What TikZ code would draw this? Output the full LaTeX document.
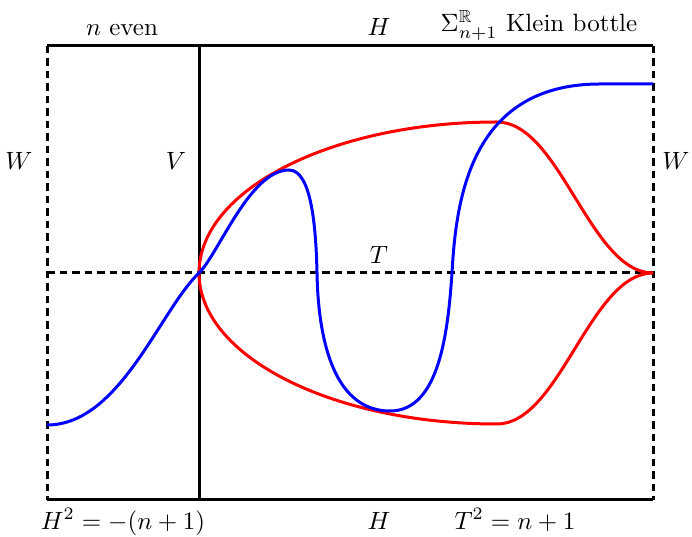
\documentclass[tikz,border=0pt]{standalone}
\usepackage{amsmath,amssymb}
\usepackage{tikz}
\usetikzlibrary{positioning, calc}

\begin{document}
\begin{tikzpicture}[
  x=0.4pt, y=-0.4pt,
  solidline/.style={line width=1.2pt},
  dashline/.style={line width=1.2pt, dash pattern=on 3pt off 2pt},
  redcurve/.style={red, line width=1.2pt},
  bluecurve/.style={blue, line width=1.2pt},
  lbl/.style={inner sep=0pt, anchor=base},
]
\useasboundingbox (0,0) rectangle (692,537);

% corners of the frame and crossing points
\coordinate (tl) at (47,46);
\coordinate (tr) at (653,46);
\coordinate (bl) at (47,500);
\coordinate (br) at (653,500);
\coordinate (vtop) at (199,46);
\coordinate (vbot) at (199,500);
\coordinate (tleft) at (47,273);
\coordinate (tright) at (653,273);
\coordinate (origin) at (199,273);

% frame: H solid, W dashed
\draw[solidline] (tl) -- (tr);
\draw[solidline] (bl) -- (br);
\draw[dashline] (tl) -- (bl);
\draw[dashline] (tr) -- (br);
% V solid, T dashed
\draw[solidline] (vtop) -- (vbot);
\draw[dashline] (tleft) -- (tright);

% red curve: two branches from the origin to the right edge
\draw[redcurve] (origin) .. controls (199,189.6) and (332.4,122) .. (497,122)
  .. controls (560,122) and (590,273) .. (tright);
\draw[redcurve] (origin) .. controls (199,356.4) and (332.4,424) .. (497,424)
  .. controls (560,424) and (590,273) .. (tright);

% blue curve
\coordinate (bstart) at (47,425);
\coordinate (bend) at (653,84);
\draw[bluecurve] (bstart) .. controls (120,425) and (160,310) .. (origin)
  .. controls (219,253) and (250,170) .. (289,170)
  .. controls (312,170) and (316,230) .. (317,273)
  .. controls (318,330) and (330,411) .. (390,411)
  .. controls (440,411) and (448,330) .. (452,273)
  .. controls (456,200) and (470,84) .. (600,84) -- (bend);

% labels on top
\node[lbl] (neven) at (122,36) {$n$ even};
\node[lbl] (htop) at (379,36) {$H$};
\node[lbl] (klein) at (539,32) {$\Sigma^{\mathbb{R}}_{n+1}$ Klein bottle};

% labels on the sides
\node (wleft) at (19,161) {$W$};
\node (wright) at (676,161) {$W$};
\node (vlbl) at (176,161) {$V$};
\node (tlbl) at (379,255) {$T$};

% labels below
\node[lbl] (hsq) at (123,529) {$H^2 = -(n+1)$};
\node[lbl] (hbot) at (379,529) {$H$};
\node[lbl] (tsq) at (515,529) {$T^2 = n+1$};

\end{tikzpicture}
\end{document}
